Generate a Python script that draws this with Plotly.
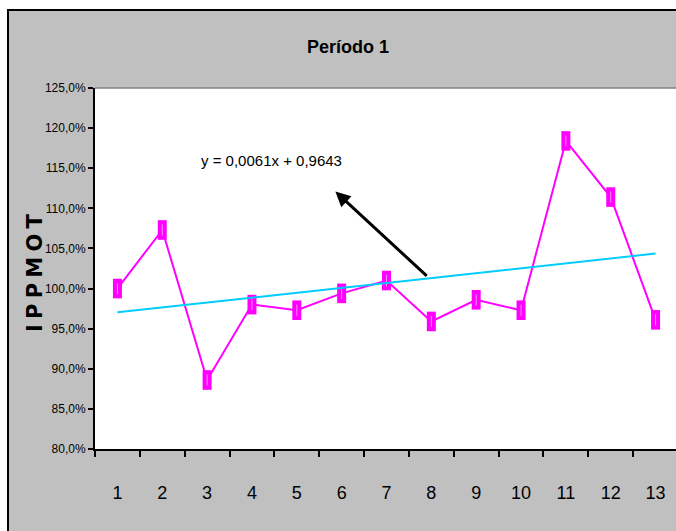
import plotly.graph_objects as go

# Data
periods = [1, 2, 3, 4, 5, 6, 7, 8, 9, 10, 11, 12, 13]
ippmot = [1.000, 1.073, 0.886, 0.980, 0.973, 0.994, 1.010, 0.959, 0.986, 0.973, 1.184, 1.114, 0.961]
trend_slope = 0.0061
trend_intercept = 0.9643
title_text = "Período 1"
y_title = "IPPMOT"
equation_text = "y = 0,0061x + 0,9643"
y_ticks = [0.80, 0.85, 0.90, 0.95, 1.00, 1.05, 1.10, 1.15, 1.20, 1.25]

trend_x = [periods[0], periods[-1]]
trend_y = [trend_slope * x + trend_intercept for x in trend_x]

W, H = 676, 531
ml, mr, mt, mb = 95, 0, 88, 82
pw, ph = W - ml - mr, H - mt - mb

def px_x(p):
    return (p - ml) / pw

def px_y(p):
    return (H - mb - p) / ph

narrow = "Liberation Sans Narrow, Liberation Sans, Arial, sans-serif"

fig = go.Figure()
fig.add_trace(go.Scatter(
    x=periods, y=ippmot, mode="lines",
    line=dict(color="#FF00FF", width=2),
    showlegend=False, hoverinfo="skip"))
fig.add_trace(go.Scatter(
    x=periods, y=ippmot, mode="markers",
    marker=dict(symbol="line-ns", size=14, color="#FF00FF", line=dict(color="#FF00FF", width=9)),
    showlegend=False, hoverinfo="x+y"))
fig.add_trace(go.Scatter(
    x=periods, y=ippmot, mode="markers",
    marker=dict(symbol="line-ns", size=8, color="#FFCCFF", line=dict(color="#FFCCFF", width=0.7)),
    showlegend=False, hoverinfo="skip"))
fig.add_trace(go.Scatter(
    x=trend_x, y=trend_y, mode="lines",
    line=dict(color="#00CCFF", width=2),
    showlegend=False, hoverinfo="skip"))

x_end = 13.5 - 2 / 44.9
fig.update_xaxes(
    range=[0.5, x_end], tickmode="array", tickvals=periods,
    ticktext=[str(p) for p in periods], ticks="",
    tickfont=dict(family=narrow, size=18, color="black"),
    showline=True, linecolor="black", linewidth=2, showgrid=False, zeroline=False,
    minor=dict(tickmode="array", tickvals=[p - 0.5 for p in periods], ticks="outside",
               ticklen=6, tickwidth=2, tickcolor="black", showgrid=False),
    ticklabelstandoff=26,
)
fig.update_yaxes(
    range=[0.80, 1.25], tickmode="array", tickvals=y_ticks, tickformat=".1%",
    ticks="outside", ticklen=5, tickwidth=2, tickcolor="black",
    tickfont=dict(family=narrow, size=12, color="black"),
    showline=True, linecolor="black", linewidth=2, showgrid=False, zeroline=False,
)

shapes = [
    dict(type="rect", xref="paper", yref="paper", x0=px_x(0), x1=px_x(W), y0=px_y(0), y1=px_y(9),
         fillcolor="white", line=dict(width=0), layer="below"),
    dict(type="rect", xref="paper", yref="paper", x0=px_x(0), x1=px_x(7), y0=px_y(0), y1=px_y(H),
         fillcolor="white", line=dict(width=0), layer="below"),
    dict(type="line", xref="paper", yref="paper", x0=px_x(7), x1=px_x(W), y0=px_y(10), y1=px_y(10),
         line=dict(color="black", width=2)),
    dict(type="line", xref="paper", yref="paper", x0=px_x(8), x1=px_x(8), y0=px_y(10), y1=px_y(H),
         line=dict(color="black", width=2)),
    dict(type="line", xref="paper", yref="paper", x0=0, x1=1, y0=1, y1=1,
         line=dict(color="#808080", width=1.5)),
]

fig.update_layout(
    width=W, height=H, margin=dict(l=ml, r=mr, t=mt, b=mb),
    paper_bgcolor="#C0C0C0", plot_bgcolor="white",
    separators=",.",
    title=dict(text=title_text, x=348 / W, xanchor="center", y=1 - 47 / H, yanchor="middle",
               font=dict(family=narrow, size=18, color="black", weight="bold")),
    shapes=shapes,
    annotations=[
        dict(x=5.86, y=1.121, xref="x", yref="y", ax=7.93, ay=1.014, axref="x", ayref="y",
             showarrow=True, arrowhead=2, arrowsize=1, arrowwidth=3, arrowcolor="black", text=""),
        dict(x=4.43, y=1.160, xref="x", yref="y", text=equation_text, showarrow=False,
             font=dict(family=narrow, size=15, color="black")),
        dict(x=px_x(35), y=px_y(273), xref="paper", yref="paper", text="\u2005".join(y_title), showarrow=False,
             textangle=-90, xanchor="center", yanchor="middle",
             font=dict(family="DejaVu Sans, Liberation Sans, sans-serif", size=21, color="black", weight="bold")),
    ],
)

fig.write_html("out.html", post_script="document.body.style.margin='0';",
               config={"displayModeBar": False})
